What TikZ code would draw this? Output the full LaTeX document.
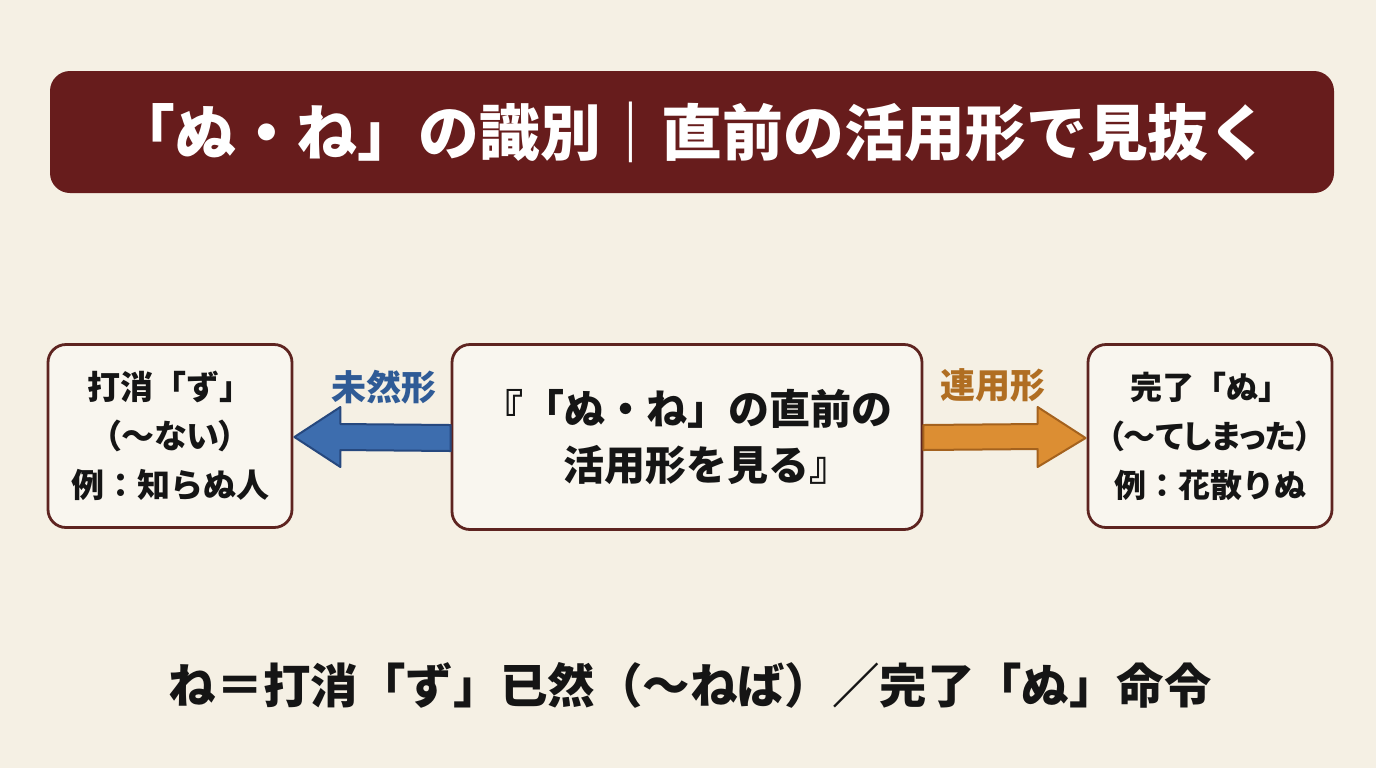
\documentclass[tikz,border=0pt]{standalone}
\usepackage{fontspec}
\newfontfamily\jp{Noto Sans CJK JP}
\newcommand{\prop}{\addfontfeature{RawFeature=+palt}}
\usetikzlibrary{calc}
\definecolor{paper}{HTML}{F5F0E4}
\definecolor{banner}{HTML}{671C1C}
\definecolor{boxline}{HTML}{5E2420}
\definecolor{blueA}{HTML}{3D6DAE}
\definecolor{blueB}{HTML}{26487E}
\definecolor{blueT}{HTML}{2F5B96}
\definecolor{orA}{HTML}{DC8E33}
\definecolor{orB}{HTML}{A4621E}
\definecolor{orT}{HTML}{B06E22}
\definecolor{ink}{HTML}{151515}
\tikzset{
  card/.style={draw=boxline, line width=1.4pt, rounded corners=9pt, fill=paper!60!white,
    align=center, font=\jp\bfseries, text=ink},
  sidecard/.style={card, minimum width=122pt, minimum height=91.5pt, inner sep=1pt},
  midcard/.style={card, minimum width=235pt, minimum height=92.5pt, font=\jp\bfseries\fontsize{20.5pt}{28pt}\selectfont},
  lbl/.style={font=\jp\bfseries\fontsize{17.5pt}{20pt}\selectfont},
  bluearrow/.style={fill=blueA, draw=blueB, line width=1pt, line join=round},
  orarrow/.style={fill=orA, draw=orB, line width=1pt, line join=round},
}
\begin{document}
\begin{tikzpicture}[x=0.5pt,y=-0.5pt]
\fill[paper] (0,0) rectangle (1376,768);
\useasboundingbox (0,0) rectangle (1376,768);
% banner
\node[fill=banner, rounded corners=10pt, minimum width=642pt, minimum height=61pt, inner sep=0pt,
  text=white, font=\jp\bfseries\fontsize{30.4pt}{34pt}\selectfont] (title) at (692,132)
  {「ぬ・ね」の識別｜直前の活用形で見抜く};
% boxes
\node[midcard] (mid) at (687,437) {『「ぬ・ね」の直前の\\\hspace*{20pt}活用形を見る』};
\node[sidecard, font=\jp\bfseries\fontsize{16.5pt}{24.5pt}\selectfont] (left) at (170,436)
  {打消「ず」\\{\prop（～ない）}\\例：知らぬ人};
\node[sidecard, font=\jp\bfseries\fontsize{16pt}{24.5pt}\selectfont] (right) at (1210,436)
  {完了「ぬ」\\{\prop（～てしまった）}\\例：花散りぬ};
% arrows
\filldraw[bluearrow] ($(mid.west)+(0,-12)$) -- ($(left.east)+(47,-12)$) -- ($(left.east)+(47,-29)$)
  -- ($(left.east)+(1,1)$) -- ($(left.east)+(47,31)$) -- ($(left.east)+(47,14)$) -- ($(mid.west)+(0,14)$) -- cycle;
\filldraw[orarrow] ($(mid.east)+(0,-12)$) -- ($(right.west)+(-49,-12)$) -- ($(right.west)+(-49,-29)$)
  -- ($(right.west)+(-1,2)$) -- ($(right.west)+(-49,31)$) -- ($(right.west)+(-49,13)$) -- ($(mid.east)+(0,13)$) -- cycle;
\node[lbl, text=blueT] (lblL) at (384,387) {未然形};
\node[lbl, text=orT] (lblR) at (993,385) {連用形};
% bottom
\node[font=\jp\bfseries\fontsize{23.7pt}{26pt}\selectfont, text=ink] (note) at (690,685)
  {ね＝打消「ず」已然（～ねば）／完了「ぬ」命令};
\end{tikzpicture}
\end{document}
